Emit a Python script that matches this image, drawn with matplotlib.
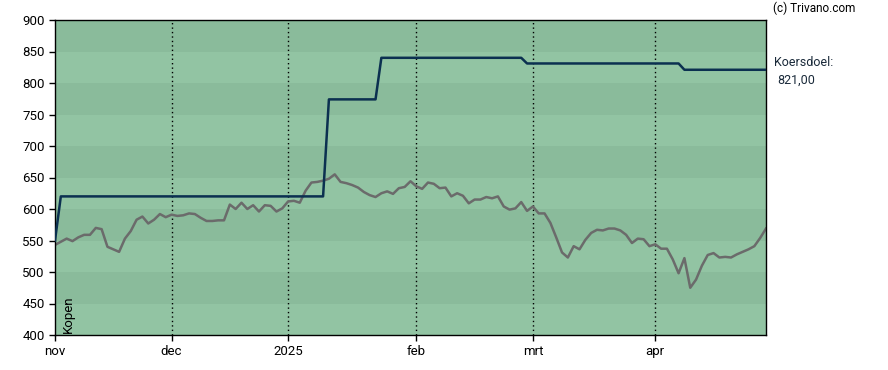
import matplotlib
matplotlib.use("Agg")
import matplotlib.pyplot as plt

# trading-day index -> month label
tick_pos = [0, 20, 40, 62, 82, 103]
tick_labels = ["nov", "dec", "2025", "feb", "mrt", "apr"]

# closing price, one value per trading day
price = [
    543, 548, 553, 549, 555, 559, 559, 570, 568, 540,
    536, 532, 553, 565, 583, 588, 577, 583, 592, 587,
    591, 589, 590, 593, 592, 586, 581, 581, 582, 582,
    607, 600, 610, 600, 606, 596, 606, 605, 596, 601,
    612, 613, 610, 629, 642, 643, 645, 648, 655, 643,
    641, 638, 634, 627, 622, 619, 625, 628, 624, 633,
    635, 644, 636, 632, 642, 640, 633, 634, 620, 625,
    621, 609, 615, 615, 619, 617, 620, 604, 599, 601,
    611, 597, 604, 593, 593, 578, 555, 531, 523, 541,
    536, 551, 562, 567, 566, 569, 569, 566, 559, 546,
    553, 552, 541, 544, 537, 537, 520, 498, 522, 475,
    488, 510, 527, 530, 523, 524, 523, 528, 532, 536,
    541, 554, 569,
]

# price target (koersdoel) breakpoints
target_x = [0, 1, 46, 47, 55, 56, 80, 81, 107, 108, 122]
target_y = [550, 620, 620, 774, 774, 840, 840, 831, 831, 821, 821]

band_dark = "#8abb9b"
band_light = "#92c4a3"

plt.rcParams["font.family"] = ["Roboto", "DejaVu Sans"]

fig = plt.figure(figsize=(8.88, 3.70), dpi=100)
ax = fig.add_axes([55 / 888, 1 - 335 / 370, 711 / 888, 315 / 370])

for i, lo in enumerate(range(400, 900, 50)):
    ax.axhspan(lo, lo + 50, color=band_light if i % 2 == 0 else band_dark, lw=0, zorder=0)

for p in tick_pos[1:]:
    ax.axvline(p, color="black", lw=1, ls=(0, (1, 2.2)), zorder=1)

ax.plot(range(len(price)), price, color="#6b6b6b", lw=1.8, zorder=2)
ax.plot(target_x, target_y, color="#0b3050", lw=1.8, zorder=3)

ax.set_xlim(0, 122)
ax.set_ylim(400, 900)
ax.set_yticks(range(400, 901, 50))
ax.set_xticks(tick_pos)
ax.set_xticklabels(tick_labels)
ax.tick_params(labelsize=9.5, length=4, width=1, colors="black")
for s in ax.spines.values():
    s.set_color("black")
    s.set_linewidth(1)

ax.text(1.2, 403, "Kopen", rotation=90, fontsize=9.5, ha="left", va="bottom")

fig.text(773 / 888, 1 - 8 / 370, "(c) Trivano.com", fontsize=8.5, ha="left", va="center")
fig.text(774 / 888, 1 - 62 / 370, "Koersdoel:", fontsize=9, ha="left", va="center", color="#1a2a3a")
fig.text(777 / 888, 1 - 80 / 370, "821,00", fontsize=9, ha="left", va="center", color="#1a2a3a")

fig.savefig("out.png", dpi=100)
